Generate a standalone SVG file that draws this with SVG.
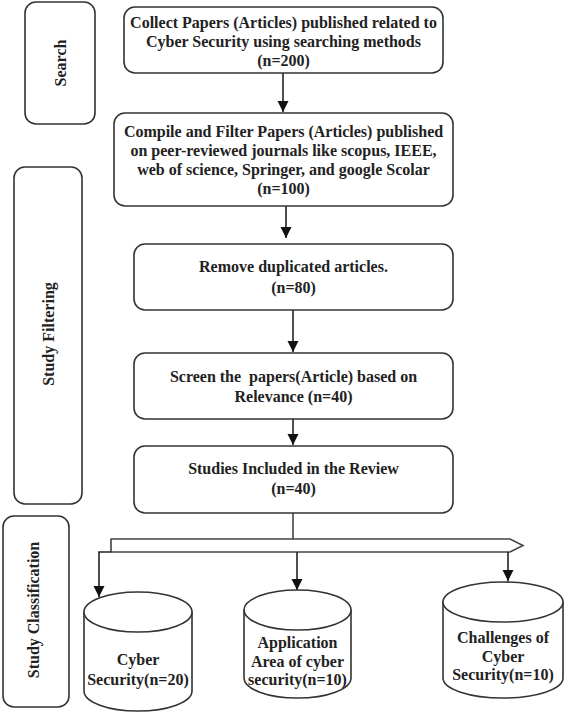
<svg xmlns="http://www.w3.org/2000/svg" width="565" height="714" viewBox="0 0 565 714">
<defs>
<marker id="ah" markerUnits="userSpaceOnUse" markerWidth="12" markerHeight="12" viewBox="0 0 12 12" refX="11" refY="6" orient="auto">
<path d="M0,0.5 L11,6 L0,11.5 Z" fill="#111"/>
</marker>
<style>
.box{fill:#fff;stroke:#333;stroke-width:1.6}
.t{font-family:"Liberation Serif","Times New Roman",serif;font-weight:bold;font-size:16px;fill:#222;text-anchor:middle;white-space:pre}
.c{fill:none;stroke:#444;stroke-width:1.6}
.ca{fill:none;stroke:#222;stroke-width:1.6;marker-end:url(#ah)}
</style>
</defs>
<rect width="565" height="714" fill="#fff"/>

<g id="stage-search">
<rect class="box" x="25" y="2" width="70" height="122" rx="11"/>
<text class="t" transform="translate(65.5,63) rotate(-90)">Search</text>
</g>
<g id="stage-filtering">
<rect class="box" x="14" y="167" width="68" height="337" rx="11"/>
<text class="t" transform="translate(53.5,334) rotate(-90)">Study Filtering</text>
</g>
<g id="stage-classification">
<rect class="box" x="3" y="516" width="66" height="191" rx="11"/>
<text class="t" transform="translate(38.5,610) rotate(-90)">Study Classification</text>
</g>

<g id="connectors">
<line class="ca" x1="283" y1="73" x2="283" y2="112"/>
<line class="ca" x1="286" y1="206" x2="286" y2="238"/>
<line class="ca" x1="293" y1="310" x2="293" y2="352"/>
<line class="ca" x1="293" y1="419" x2="293" y2="445"/>
<line class="c" x1="293" y1="513" x2="293" y2="539"/>
<path class="c" d="M111,539 H510 L523,545.5 L510,552 H111 Z" fill="#fff"/>
<path class="ca" d="M111,552 H99 V597"/>
<line class="ca" x1="297" y1="552" x2="297" y2="590"/>
<line class="ca" x1="508" y1="552" x2="508" y2="581"/>
</g>

<g id="n1">
<rect class="box" x="124" y="7" width="319" height="66" rx="11"/>
<text class="t" x="283.5" y="28">Collect Papers (Articles) published related to</text>
<text class="t" x="283.5" y="47">Cyber Security using searching methods</text>
<text class="t" x="283.5" y="66">(n=200)</text>
</g>
<g id="n2">
<rect class="box" x="114" y="113" width="339" height="93" rx="11"/>
<text class="t" x="283.5" y="137">Compile and Filter Papers (Articles) published</text>
<text class="t" x="283.5" y="156">on peer-reviewed journals like scopus, IEEE,</text>
<text class="t" x="283.5" y="175">web of science, Springer, and google Scolar</text>
<text class="t" x="283.5" y="194">(n=100)</text>
</g>
<g id="n3">
<rect class="box" x="134" y="244" width="319" height="66" rx="11"/>
<text class="t" x="293.5" y="272">Remove duplicated articles.</text>
<text class="t" x="293.5" y="293">(n=80)</text>
</g>
<g id="n4">
<rect class="box" x="134" y="353" width="319" height="66" rx="11"/>
<text class="t" x="293.5" y="382" xml:space="preserve">Screen the  papers(Article) based on</text>
<text class="t" x="293.5" y="402">Relevance (n=40)</text>
</g>
<g id="n5">
<rect class="box" x="134" y="446" width="319" height="67" rx="11"/>
<text class="t" x="293.5" y="474">Studies Included in the Review</text>
<text class="t" x="293.5" y="494">(n=40)</text>
</g>

<g id="db1">
<path class="box" d="M84,612 V691 A54,20 0 0 0 192,691 V612 A54,20 0 0 0 84,612 Z"/>
<path class="box" fill="none" d="M84,612 A54,20 0 0 0 192,612"/>
<text class="t" x="138" y="665">Cyber</text>
<text class="t" x="138" y="685">Security(n=20)</text>
</g>
<g id="db2">
<path class="box" d="M244,610 V678 A53.5,20 0 0 0 351,678 V610 A53.5,20 0 0 0 244,610 Z"/>
<path class="box" fill="none" d="M244,610 A53.5,20 0 0 0 351,610"/>
<text class="t" x="297.5" y="648">Application</text>
<text class="t" x="297.5" y="667">Area of cyber</text>
<text class="t" x="297.5" y="685">security(n=10)</text>
</g>
<g id="db3">
<path class="box" d="M443,602 V678 A60,20 0 0 0 563,678 V602 A60,20 0 0 0 443,602 Z"/>
<path class="box" fill="none" d="M443,602 A60,20 0 0 0 563,602"/>
<text class="t" x="503" y="643">Challenges of</text>
<text class="t" x="503" y="662">Cyber</text>
<text class="t" x="503" y="680">Security(n=10)</text>
</g>
</svg>
